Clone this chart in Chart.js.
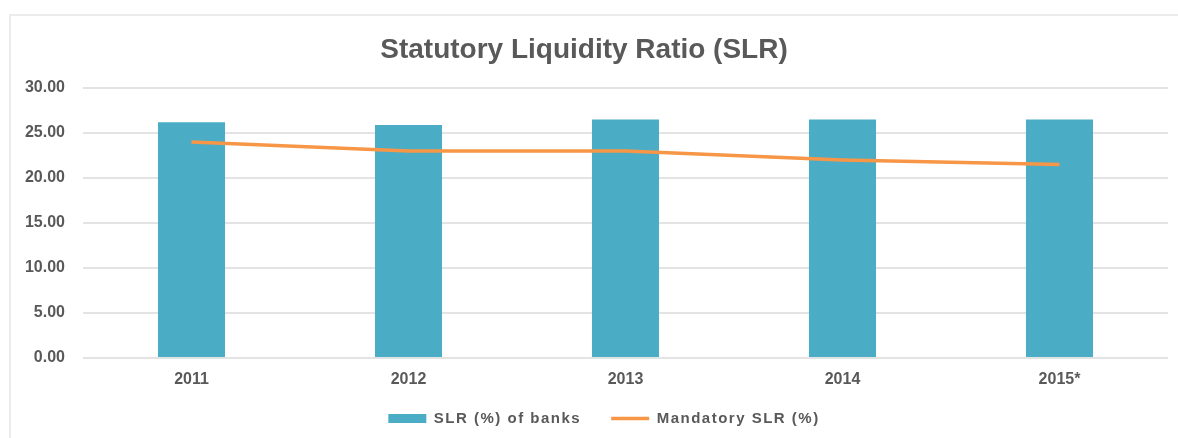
<!DOCTYPE html>
<html>
<head>
<meta charset="utf-8">
<script src="https://cdn.jsdelivr.net/npm/chart.js@4.4.1/dist/chart.umd.min.js"></script>
<style>
  html, body { margin: 0; padding: 0; background: #ffffff; overflow: hidden; }
  #wrap { position: relative; width: 1178px; height: 438px; }
  #frame { position: absolute; left: 9px; top: 14px; width: 1200px; height: 500px; border: 2px solid #ebebeb; box-sizing: border-box; }
  #c { position: absolute; left: 0; top: 0; }
</style>
</head>
<body>
<div id="wrap">
  <div id="frame"></div>
  <canvas id="c" width="1178" height="438"></canvas>
</div>
<script>
const categories = ['2011', '2012', '2013', '2014', '2015*'];
const slrOfBanks = [26.2, 25.9, 26.5, 26.5, 26.5];
const mandatorySlr = [24.0, 23.0, 23.0, 22.0, 21.5];
const yTickLabels = ['0.00', '5.00', '10.00', '15.00', '20.00', '25.00', '30.00'];

const TEXT = '#595959';
const FONT = "'Liberation Sans', Arial, sans-serif";

// Legend text in the reference is slightly letter-spaced and sits a bit
// higher / further right than Chart.js' default placement.
const legendTweak = {
  id: 'legendTweak',
  beforeInit(chart) {
    const lg = chart.legend;
    if (!lg || lg._wrapped) return;
    const origFit = lg.fit.bind(lg);
    lg.fit = function (...args) {
      const ctx = this.ctx;
      const prev = ctx.letterSpacing;
      ctx.letterSpacing = '1.5px';
      const r = origFit(...args);
      ctx.letterSpacing = prev;
      return r;
    };
    const origDraw = lg.draw.bind(lg);
    lg.draw = function (...args) {
      const ctx = this.ctx;
      ctx.save();
      ctx.letterSpacing = '1.5px';
      ctx.translate(20, -9);
      const r = origDraw(...args);
      ctx.restore();
      return r;
    };
    lg._wrapped = true;
  }
};

new Chart(document.getElementById('c'), {
  data: {
    labels: categories,
    datasets: [
      {
        type: 'bar',
        label: 'SLR (%) of banks',
        data: slrOfBanks,
        backgroundColor: '#4BACC6',
        borderWidth: 0,
        categoryPercentage: 1.0,
        barPercentage: 0.309,
        pointStyle: 'rect',
        order: 1
      },
      {
        type: 'line',
        label: 'Mandatory SLR (%)',
        data: mandatorySlr,
        borderColor: '#F79646',
        backgroundColor: '#F79646',
        borderWidth: 3.5,
        pointRadius: 0,
        pointHoverRadius: 0,
        pointBorderWidth: 3.5,
        pointStyle: 'line',
        tension: 0,
        fill: false,
        order: 0
      }
    ]
  },
  options: {
    responsive: false,
    animation: false,
    events: [],
    layout: { padding: { top: 0, left: 0, right: 10, bottom: 0 } },
    plugins: {
      tooltip: { enabled: false },
      title: {
        display: true,
        text: 'Statutory Liquidity Ratio (SLR)',
        color: TEXT,
        font: { family: FONT, size: 28, weight: 'bold', lineHeight: 1.2 },
        padding: { top: 33, bottom: 21.4 }
      },
      legend: {
        display: true,
        position: 'bottom',
        maxHeight: 48,
        labels: {
          color: TEXT,
          font: { family: FONT, size: 15, weight: 'bold' },
          padding: 30,
          usePointStyle: true,
          pointStyleWidth: 38,
          boxHeight: 9,
          sort: (a, b) => a.datasetIndex - b.datasetIndex
        }
      }
    },
    scales: {
      x: {
        grid: { display: false, drawTicks: false },
        border: { display: false },
        ticks: {
          color: TEXT,
          font: { family: FONT, size: 16, weight: 'bold' },
          padding: 12,
          maxRotation: 0
        },
        afterFit(scale) { scale.height = 32; }
      },
      y: {
        min: 0,
        max: 30,
        grid: { color: '#e3e3e3', lineWidth: 2, drawTicks: false },
        border: { display: false },
        ticks: {
          stepSize: 5,
          color: TEXT,
          font: { family: FONT, size: 16, weight: 'bold' },
          padding: 18,
          callback: (v, i) => yTickLabels[i]
        },
        afterFit(scale) { scale.width = 83; }
      }
    }
  },
  plugins: [legendTweak]
});
</script>
</body>
</html>
